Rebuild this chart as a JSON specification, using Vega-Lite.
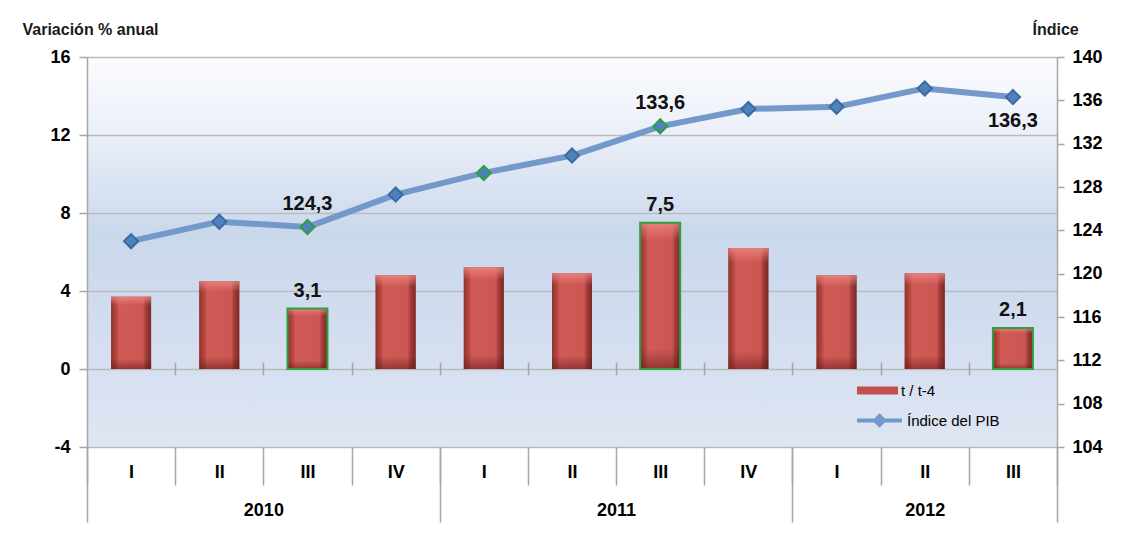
{
  "$schema": "https://vega.github.io/schema/vega-lite/v6.json",
  "width": 970,
  "height": 390,
  "autosize": {"type": "none"},
  "padding": {"left": 87, "top": 57, "right": 67, "bottom": 90},
  "background": "white",
  "config": {
    "font": "Liberation Sans",
    "locale": {"number": {"decimal": ",", "thousands": ".", "grouping": [3], "currency": ["", " €"]}},
    "view": {
      "stroke": null,
      "fill": {"gradient": "linear", "x1": 0, "y1": 0, "x2": 0, "y2": 1,
        "stops": [
          {"offset": 0, "color": "#fbfcfe"},
          {"offset": 0.2, "color": "#eaeff8"},
          {"offset": 0.45, "color": "#cad8ec"},
          {"offset": 0.7, "color": "#d2ddef"},
          {"offset": 1, "color": "#dfe6f3"}
        ]}
    }
  },
  "data": {"values": [
    {"n": 1, "q": "I", "year": 2010, "var": 3.7, "ind": 123.0},
    {"n": 2, "q": "II", "year": 2010, "var": 4.5, "ind": 124.8},
    {"n": 3, "q": "III", "year": 2010, "var": 3.1, "ind": 124.3},
    {"n": 4, "q": "IV", "year": 2010, "var": 4.8, "ind": 127.3},
    {"n": 5, "q": "I", "year": 2011, "var": 5.2, "ind": 129.3},
    {"n": 6, "q": "II", "year": 2011, "var": 4.9, "ind": 130.9},
    {"n": 7, "q": "III", "year": 2011, "var": 7.5, "ind": 133.6},
    {"n": 8, "q": "IV", "year": 2011, "var": 6.2, "ind": 135.2},
    {"n": 9, "q": "I", "year": 2012, "var": 4.8, "ind": 135.4},
    {"n": 10, "q": "II", "year": 2012, "var": 4.9, "ind": 137.1},
    {"n": 11, "q": "III", "year": 2012, "var": 2.1, "ind": 136.3}
  ]},
  "resolve": {"scale": {"y": "independent"}, "axis": {"x": "independent", "y": "independent"}},
  "layer": [
    {
      "mark": {"type": "bar", "width": 40},
      "encoding": {
        "x": {"field": "n", "type": "quantitative",
          "scale": {"domain": [0.5, 11.5], "nice": false, "zero": false, "padding": 0},
          "axis": {"orient": "bottom", "title": null, "values": [1,2,3,4,5,6,7,8,9,10,11],
            "labelExpr": "['I','II','III','IV','I','II','III','IV','I','II','III'][datum.value-1]",
            "ticks": false, "tickSize": 0, "domain": false, "grid": false,
            "labelPadding": 25, "labelBaseline": "middle", "labelFontSize": 18, "labelFontWeight": "bold",
            "labelColor": "#000", "labelFlush": false, "labelOverlap": false, "labelBound": false}},
        "y": {"field": "var", "type": "quantitative",
          "scale": {"domain": [-4, 16], "nice": false, "zero": false},
          "axis": {"orient": "left", "values": [-4, 0, 4, 8, 12, 16], "title": "Variación % anual",
            "labelExpr": "'' + datum.value",
            "titleAngle": 0, "titleX": -65, "titleY": -28, "titleAlign": "left", "titleBaseline": "middle",
            "titleFontSize": 16, "titleFontWeight": "bold", "titleColor": "#1a1a1a",
            "grid": true, "gridColor": "#bababa", "gridWidth": 1.5,
            "domainColor": "#a6a6a6", "domainWidth": 1.5, "tickColor": "#a6a6a6", "tickSize": 8, "tickWidth": 1.5,
            "labelPadding": 9, "labelFontSize": 18, "labelFontWeight": "bold", "labelColor": "#000",
            "labelFlush": false, "labelOverlap": false}},
        "fill": {"datum": "t / t-4", "type": "nominal", "scale": {"range": ["#c0504d"]},
          "legend": {"title": null, "orient": "none", "legendX": 770, "legendY": 313,
            "symbolType": "M-1,-0.2H1V0.2H-1Z", "symbolSize": 1681, "symbolStrokeWidth": 0,
            "labelFontSize": 15, "labelColor": "#000", "padding": 0, "labelOffset": 3}}
      }
    },
    {
      "mark": {"type": "bar", "width": 40,
        "fill": {"gradient": "linear", "x1": 0, "y1": 0, "x2": 1, "y2": 0,
          "stops": [
            {"offset": 0, "color": "#8e332f"},
            {"offset": 0.13, "color": "#b8473f"},
            {"offset": 0.2, "color": "#d05a56"},
            {"offset": 0.8, "color": "#cc5652"},
            {"offset": 0.87, "color": "#a33d39"},
            {"offset": 1, "color": "#7a2926"}
          ]}},
      "encoding": {
        "x": {"field": "n", "type": "quantitative",
          "scale": {"domain": [0.5, 11.5], "nice": false, "zero": false, "padding": 0},
          "axis": {"orient": "bottom", "title": null, "values": [2.5, 6.5, 10],
            "labelExpr": "datum.value < 4 ? '2010' : datum.value < 8 ? '2011' : '2012'",
            "ticks": false, "tickSize": 0, "domain": false, "grid": false,
            "labelPadding": 63, "labelBaseline": "middle", "labelFontSize": 18, "labelFontWeight": "bold",
            "labelColor": "#000", "labelFlush": false, "labelOverlap": false, "labelBound": false}},
        "y": {"field": "var", "type": "quantitative", "scale": {"domain": [-4, 16], "nice": false, "zero": false}, "axis": null}
      }
    },
    {
      "mark": {"type": "bar", "width": 40, "stroke": "#2e9e3e", "strokeWidth": 2,
        "fill": {"gradient": "linear", "x1": 0, "y1": 0, "x2": 0, "y2": 1,
          "stops": [
            {"offset": 0, "color": "rgba(240,140,136,0.75)"},
            {"offset": 0.12, "color": "rgba(240,140,136,0)"},
            {"offset": 0.86, "color": "rgba(90,20,20,0)"},
            {"offset": 1, "color": "rgba(90,20,20,0.5)"}
          ]}},
      "encoding": {
        "x": {"field": "n", "type": "quantitative",
          "scale": {"domain": [0.5, 11.5], "nice": false, "zero": false, "padding": 0}, "axis": null},
        "y": {"field": "var", "type": "quantitative", "scale": {"domain": [-4, 16], "nice": false, "zero": false}, "axis": null},
        "strokeOpacity": {"condition": {"test": "indexof([3,7,11], datum.n) >= 0", "value": 1}, "value": 0}
      }
    },
    {
      "transform": [{"filter": "indexof([3,7,11], datum.n) >= 0"}],
      "mark": {"type": "text", "align": "center", "baseline": "alphabetic", "dy": -12,
        "fontSize": 20, "fontWeight": "bold", "color": "#111"},
      "encoding": {
        "x": {"field": "n", "type": "quantitative",
          "scale": {"domain": [0.5, 11.5], "nice": false, "zero": false, "padding": 0},
          "axis": {"orient": "bottom", "title": null, "values": [0.5,1.5,2.5,3.5,4.5,5.5,6.5,7.5,8.5,9.5,10.5,11.5],
            "labels": false, "domain": false, "grid": false, "tickSize": 38, "tickColor": "#a6a6a6", "tickWidth": 1.5}},
        "y": {"field": "var", "type": "quantitative", "scale": {"domain": [-4, 16], "nice": false, "zero": false}, "axis": null},
        "text": {"field": "var", "type": "quantitative", "format": ".1f"}
      }
    },
    {
      "mark": {"type": "line", "strokeWidth": 6, "strokeJoin": "round"},
      "encoding": {
        "x": {"field": "n", "type": "quantitative",
          "scale": {"domain": [0.5, 11.5], "nice": false, "zero": false, "padding": 0},
          "axis": {"orient": "bottom", "title": null, "values": [0.5, 4.5, 8.5, 11.5],
            "labels": false, "domain": false, "grid": false, "tickSize": 75, "tickColor": "#a6a6a6", "tickWidth": 1.5}},
        "y": {"field": "ind", "type": "quantitative",
          "scale": {"domain": [104, 140], "nice": false, "zero": false},
          "axis": {"orient": "right", "values": [104,108,112,116,120,124,128,132,136,140], "title": "Índice",
            "titleAngle": 0, "titleX": -25, "titleY": -28, "titleAlign": "left", "titleBaseline": "middle",
            "titleFontSize": 16, "titleFontWeight": "bold", "titleColor": "#1a1a1a",
            "grid": false, "domainColor": "#a6a6a6", "domainWidth": 1.5, "tickColor": "#a6a6a6", "tickSize": 7, "tickWidth": 1.5,
            "labelPadding": 8, "labelFontSize": 18, "labelFontWeight": "bold", "labelColor": "#000",
            "labelFlush": false, "labelOverlap": false}},
        "stroke": {"datum": "Índice del PIB", "type": "nominal", "scale": {"range": ["#7399cb"]},
          "legend": {"title": null, "orient": "none", "legendX": 768, "legendY": 339,
            "symbolType": "M-1,0H1M0,-0.2L0.2,0L0,0.2L-0.2,0Z", "symbolSize": 2025, "symbolStrokeWidth": 4,
            "symbolFillColor": "#4f81bd", "labelFontSize": 15, "labelColor": "#000", "padding": 0, "labelOffset": 3,
            "encode": {"symbols": {"update": {"fill": {"value": "#4f81bd"}}}}}}
      }
    },
    {
      "mark": {"type": "point", "shape": "diamond", "filled": true, "size": 200, "fill": "#4f81bd", "strokeWidth": 2, "opacity": 1},
      "encoding": {
        "x": {"field": "n", "type": "quantitative",
          "scale": {"domain": [0.5, 11.5], "nice": false, "zero": false, "padding": 0},
          "axis": {"orient": "bottom", "title": null, "values": [1.5,2.5,3.5,4.5,5.5,6.5,7.5,8.5,9.5,10.5],
            "labels": false, "domain": false, "grid": false, "offset": -85, "tickSize": 13, "tickColor": "#a6a6a6", "tickWidth": 1.5}},
        "y": {"field": "ind", "type": "quantitative", "scale": {"domain": [104, 140], "nice": false, "zero": false}, "axis": null},
        "stroke": {"condition": {"test": "indexof([3,5,7], datum.n) >= 0", "value": "#2e9e3e"}, "value": "#3b6aa0"}
      }
    },
    {
      "transform": [{"filter": "datum.n == 3 || datum.n == 7"}],
      "mark": {"type": "text", "align": "center", "baseline": "alphabetic", "dy": -17,
        "fontSize": 20, "fontWeight": "bold", "color": "#111"},
      "encoding": {
        "x": {"field": "n", "type": "quantitative", "scale": {"domain": [0.5, 11.5], "nice": false, "zero": false, "padding": 0}, "axis": null},
        "y": {"field": "ind", "type": "quantitative", "scale": {"domain": [104, 140], "nice": false, "zero": false}, "axis": null},
        "text": {"field": "ind", "type": "quantitative", "format": ".1f"}
      }
    },
    {
      "transform": [{"filter": "datum.n == 11"}],
      "mark": {"type": "text", "align": "center", "baseline": "alphabetic", "dy": 30,
        "fontSize": 20, "fontWeight": "bold", "color": "#111"},
      "encoding": {
        "x": {"field": "n", "type": "quantitative", "scale": {"domain": [0.5, 11.5], "nice": false, "zero": false, "padding": 0}, "axis": null},
        "y": {"field": "ind", "type": "quantitative", "scale": {"domain": [104, 140], "nice": false, "zero": false}, "axis": null},
        "text": {"field": "ind", "type": "quantitative", "format": ".1f"}
      }
    }
  ]
}
